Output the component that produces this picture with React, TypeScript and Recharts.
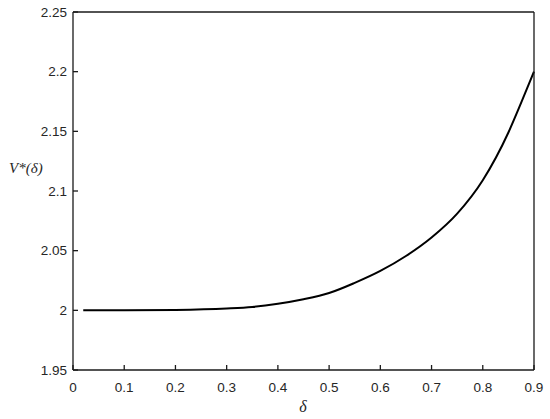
import { Line, LineChart, XAxis, YAxis } from "recharts";

const delta = [0.02, 0.1, 0.2, 0.3, 0.35, 0.4, 0.45, 0.5, 0.55, 0.6, 0.65, 0.7, 0.75, 0.8, 0.85, 0.875, 0.9];
const vStar = [2.0, 2.0, 2.0003, 2.0015, 2.0028, 2.0055, 2.0093, 2.0145, 2.023, 2.033, 2.0455, 2.061, 2.081, 2.109, 2.149, 2.174, 2.2];
const xTicks = [0, 0.1, 0.2, 0.3, 0.4, 0.5, 0.6, 0.7, 0.8, 0.9];
const yTicks = [1.95, 2, 2.05, 2.1, 2.15, 2.2, 2.25];

const data = delta.map((d, i) => ({ d, v: vStar[i] }));

const AXIS = "#1a1a1a";
const FONT = "'Liberation Sans', Arial, sans-serif";
const SERIF = "'Liberation Serif', 'Times New Roman', serif";

const axisLine = { stroke: AXIS, strokeWidth: 1.3 };
const tickLine = { stroke: AXIS, strokeWidth: 1.3 };

export default function App() {
  return (
    <div style={{ position: "absolute", left: 0, top: 0, width: 550, height: 419, background: "#fff" }}>
      <LineChart width={550} height={419} data={data} margin={{ top: 12, right: 16, bottom: 0, left: 0 }}>
        {/* MATLAB style: ticks point inwards, labels stay outside */}
        <XAxis
          xAxisId="b"
          dataKey="d"
          type="number"
          domain={[0, 0.9]}
          ticks={xTicks}
          height={49}
          tickSize={-5}
          tickMargin={17}
          tickLine={tickLine}
          axisLine={axisLine}
          tick={{ fontSize: 13.5, fontFamily: FONT, fill: "#262626" }}
          interval={0}
        />
        <XAxis
          xAxisId="t"
          orientation="top"
          dataKey="d"
          type="number"
          domain={[0, 0.9]}
          ticks={xTicks}
          height={1}
          mirror
          tickSize={5}
          tickLine={tickLine}
          axisLine={axisLine}
          tick={false}
          interval={0}
        />
        <YAxis
          yAxisId="l"
          type="number"
          domain={[1.95, 2.25]}
          ticks={yTicks}
          width={73}
          tickSize={-5}
          tickMargin={11}
          tickLine={tickLine}
          axisLine={axisLine}
          tick={{ fontSize: 13.5, fontFamily: FONT, fill: "#262626" }}
          interval={0}
        />
        <YAxis
          yAxisId="r"
          orientation="right"
          type="number"
          domain={[1.95, 2.25]}
          ticks={yTicks}
          width={1}
          mirror
          tickSize={5}
          tickLine={tickLine}
          axisLine={axisLine}
          tick={false}
          interval={0}
        />
        {/* invisible series so the mirrored box axes get drawn */}
        <Line
          xAxisId="t"
          yAxisId="r"
          type="monotone"
          dataKey="v"
          stroke="none"
          dot={false}
          activeDot={false}
          isAnimationActive={false}
        />
        <Line
          xAxisId="b"
          yAxisId="l"
          type="monotone"
          dataKey="v"
          stroke="#000"
          strokeWidth={2}
          dot={false}
          isAnimationActive={false}
        />
      </LineChart>
      <svg width={550} height={419} style={{ position: "absolute", left: 0, top: 0, pointerEvents: "none" }}>
        <text x={303} y={412} textAnchor="middle" fontSize={16} fontStyle="italic" fontFamily={SERIF} fill="#262626">
          δ
        </text>
        <text x={9} y={173} textAnchor="start" fontSize={15} fontStyle="italic" fontFamily={SERIF} fill="#262626">
          V*(δ)
        </text>
      </svg>
    </div>
  );
}
